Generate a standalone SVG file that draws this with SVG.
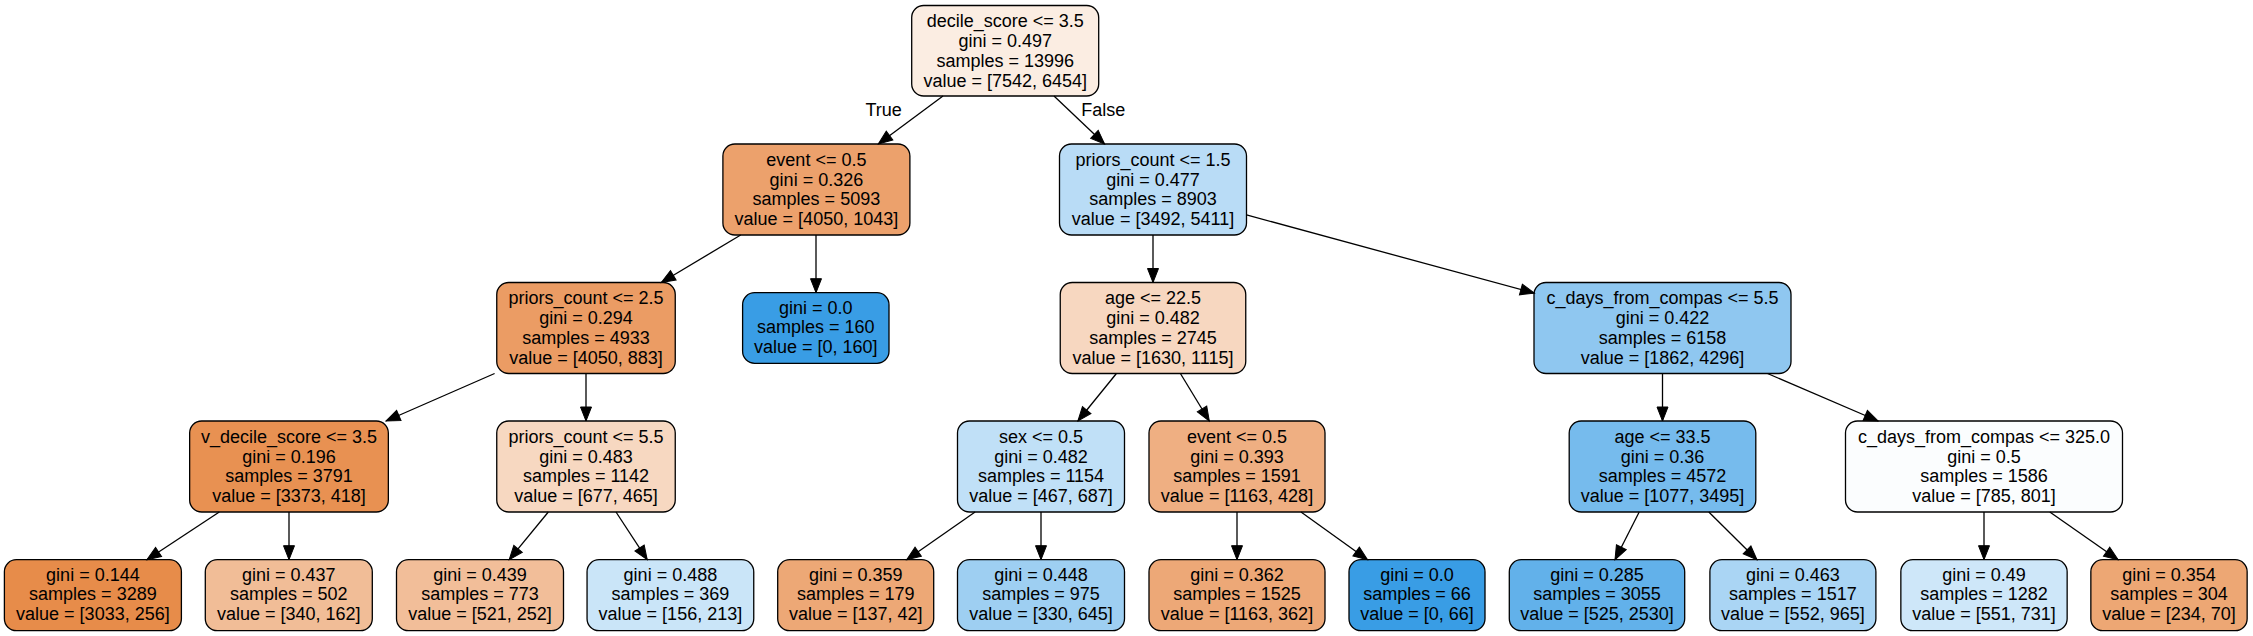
<svg xmlns="http://www.w3.org/2000/svg" width="2253" height="636" viewBox="0 0 2253 636">
<style>
  .box { stroke: #000; stroke-width: 1.3; }
  text { font-family: "Liberation Sans", Arial, Helvetica, sans-serif; font-size: 18px; fill: #000; text-anchor: middle; }
  .edge { stroke: #000; stroke-width: 1.3; fill: none; marker-end: url(#arr); }
</style>
<defs>
  <marker id="arr" markerUnits="userSpaceOnUse" markerWidth="16" markerHeight="13" refX="14" refY="5.5" orient="auto" overflow="visible">
    <path d="M0,0 L14,5.5 L0,11 z" fill="#000" stroke="#000" stroke-width="1"/>
  </marker>
</defs>
<rect width="2253" height="636" fill="#fff"/>

<g id="n0"><rect class="box" x="911.7" y="5.5" width="187" height="90.5" rx="12" fill="#fbede2"/>
<text><tspan x="1005.2" y="27.2">decile_score &lt;= 3.5</tspan><tspan x="1005.2" y="47">gini = 0.497</tspan><tspan x="1005.2" y="66.8">samples = 13996</tspan><tspan x="1005.2" y="86.6">value = [7542, 6454]</tspan></text></g>

<g id="n1"><rect class="box" x="722.9" y="144" width="187" height="91" rx="12" fill="#eca16c"/>
<text><tspan x="816.4" y="165.7">event &lt;= 0.5</tspan><tspan x="816.4" y="185.5">gini = 0.326</tspan><tspan x="816.4" y="205.3">samples = 5093</tspan><tspan x="816.4" y="225.1">value = [4050, 1043]</tspan></text></g>

<g id="n2"><rect class="box" x="1059.5" y="144" width="187" height="91" rx="12" fill="#b9dcf6"/>
<text><tspan x="1153" y="165.7">priors_count &lt;= 1.5</tspan><tspan x="1153" y="185.5">gini = 0.477</tspan><tspan x="1153" y="205.3">samples = 8903</tspan><tspan x="1153" y="225.1">value = [3492, 5411]</tspan></text></g>

<g id="n3"><rect class="box" x="496.75" y="282.5" width="178.5" height="91" rx="12" fill="#eb9c64"/>
<text><tspan x="586" y="304.2">priors_count &lt;= 2.5</tspan><tspan x="586" y="324">gini = 0.294</tspan><tspan x="586" y="343.8">samples = 4933</tspan><tspan x="586" y="363.6">value = [4050, 883]</tspan></text></g>

<g id="n4"><rect class="box" x="742.6" y="292.7" width="146.4" height="70.6" rx="12" fill="#399de5"/>
<text><tspan x="815.8" y="313.5">gini = 0.0</tspan><tspan x="815.8" y="333.3">samples = 160</tspan><tspan x="815.8" y="353.1">value = [0, 160]</tspan></text></g>

<g id="n5"><rect class="box" x="1060.25" y="282.5" width="185.5" height="91" rx="12" fill="#f7d7c0"/>
<text><tspan x="1153" y="304.2">age &lt;= 22.5</tspan><tspan x="1153" y="324">gini = 0.482</tspan><tspan x="1153" y="343.8">samples = 2745</tspan><tspan x="1153" y="363.6">value = [1630, 1115]</tspan></text></g>

<g id="n6"><rect class="box" x="1534" y="282.5" width="257" height="91" rx="12" fill="#8fc7f0"/>
<text><tspan x="1662.5" y="304.2">c_days_from_compas &lt;= 5.5</tspan><tspan x="1662.5" y="324">gini = 0.422</tspan><tspan x="1662.5" y="343.8">samples = 6158</tspan><tspan x="1662.5" y="363.6">value = [1862, 4296]</tspan></text></g>

<g id="n7"><rect class="box" x="189.65" y="421" width="198.7" height="91" rx="12" fill="#e89152"/>
<text><tspan x="289" y="442.7">v_decile_score &lt;= 3.5</tspan><tspan x="289" y="462.5">gini = 0.196</tspan><tspan x="289" y="482.3">samples = 3791</tspan><tspan x="289" y="502.1">value = [3373, 418]</tspan></text></g>

<g id="n8"><rect class="box" x="496.75" y="421" width="178.5" height="91" rx="12" fill="#f7d8c1"/>
<text><tspan x="586" y="442.7">priors_count &lt;= 5.5</tspan><tspan x="586" y="462.5">gini = 0.483</tspan><tspan x="586" y="482.3">samples = 1142</tspan><tspan x="586" y="502.1">value = [677, 465]</tspan></text></g>

<g id="n9"><rect class="box" x="957.5" y="421" width="167" height="91" rx="12" fill="#c0e0f7"/>
<text><tspan x="1041" y="442.7">sex &lt;= 0.5</tspan><tspan x="1041" y="462.5">gini = 0.482</tspan><tspan x="1041" y="482.3">samples = 1154</tspan><tspan x="1041" y="502.1">value = [467, 687]</tspan></text></g>

<g id="n10"><rect class="box" x="1149" y="421" width="176" height="91" rx="12" fill="#efaf82"/>
<text><tspan x="1237" y="442.7">event &lt;= 0.5</tspan><tspan x="1237" y="462.5">gini = 0.393</tspan><tspan x="1237" y="482.3">samples = 1591</tspan><tspan x="1237" y="502.1">value = [1163, 428]</tspan></text></g>

<g id="n11"><rect class="box" x="1569.2" y="421" width="186.6" height="91" rx="12" fill="#76bbed"/>
<text><tspan x="1662.5" y="442.7">age &lt;= 33.5</tspan><tspan x="1662.5" y="462.5">gini = 0.36</tspan><tspan x="1662.5" y="482.3">samples = 4572</tspan><tspan x="1662.5" y="502.1">value = [1077, 3495]</tspan></text></g>

<g id="n12"><rect class="box" x="1845.5" y="421" width="277" height="91" rx="12" fill="#fbfdfe"/>
<text><tspan x="1984" y="442.7">c_days_from_compas &lt;= 325.0</tspan><tspan x="1984" y="462.5">gini = 0.5</tspan><tspan x="1984" y="482.3">samples = 1586</tspan><tspan x="1984" y="502.1">value = [785, 801]</tspan></text></g>

<g id="n13"><rect class="box" x="4.4" y="559.7" width="177" height="71" rx="12" fill="#e78c4a"/>
<text><tspan x="92.9" y="580.5">gini = 0.144</tspan><tspan x="92.9" y="600.3">samples = 3289</tspan><tspan x="92.9" y="620.1">value = [3033, 256]</tspan></text></g>

<g id="n14"><rect class="box" x="205.3" y="559.7" width="167" height="71" rx="12" fill="#f1bd97"/>
<text><tspan x="288.8" y="580.5">gini = 0.437</tspan><tspan x="288.8" y="600.3">samples = 502</tspan><tspan x="288.8" y="620.1">value = [340, 162]</tspan></text></g>

<g id="n15"><rect class="box" x="396.5" y="559.7" width="167" height="71" rx="12" fill="#f2be99"/>
<text><tspan x="480" y="580.5">gini = 0.439</tspan><tspan x="480" y="600.3">samples = 773</tspan><tspan x="480" y="620.1">value = [521, 252]</tspan></text></g>

<g id="n16"><rect class="box" x="587.05" y="559.7" width="166.7" height="71" rx="12" fill="#cae5f8"/>
<text><tspan x="670.4" y="580.5">gini = 0.488</tspan><tspan x="670.4" y="600.3">samples = 369</tspan><tspan x="670.4" y="620.1">value = [156, 213]</tspan></text></g>

<g id="n17"><rect class="box" x="777.7" y="559.7" width="156" height="71" rx="12" fill="#eda876"/>
<text><tspan x="855.7" y="580.5">gini = 0.359</tspan><tspan x="855.7" y="600.3">samples = 179</tspan><tspan x="855.7" y="620.1">value = [137, 42]</tspan></text></g>

<g id="n18"><rect class="box" x="957.5" y="559.7" width="167" height="71" rx="12" fill="#9ecff2"/>
<text><tspan x="1041" y="580.5">gini = 0.448</tspan><tspan x="1041" y="600.3">samples = 975</tspan><tspan x="1041" y="620.1">value = [330, 645]</tspan></text></g>

<g id="n19"><rect class="box" x="1149" y="559.7" width="176" height="71" rx="12" fill="#eda877"/>
<text><tspan x="1237" y="580.5">gini = 0.362</tspan><tspan x="1237" y="600.3">samples = 1525</tspan><tspan x="1237" y="620.1">value = [1163, 362]</tspan></text></g>

<g id="n20"><rect class="box" x="1349" y="559.7" width="136" height="71" rx="12" fill="#399de5"/>
<text><tspan x="1417" y="580.5">gini = 0.0</tspan><tspan x="1417" y="600.3">samples = 66</tspan><tspan x="1417" y="620.1">value = [0, 66]</tspan></text></g>

<g id="n21"><rect class="box" x="1509.3" y="559.7" width="175.4" height="71" rx="12" fill="#62b1ea"/>
<text><tspan x="1597" y="580.5">gini = 0.285</tspan><tspan x="1597" y="600.3">samples = 3055</tspan><tspan x="1597" y="620.1">value = [525, 2530]</tspan></text></g>

<g id="n22"><rect class="box" x="1709.9" y="559.7" width="166" height="71" rx="12" fill="#aad5f4"/>
<text><tspan x="1792.9" y="580.5">gini = 0.463</tspan><tspan x="1792.9" y="600.3">samples = 1517</tspan><tspan x="1792.9" y="620.1">value = [552, 965]</tspan></text></g>

<g id="n23"><rect class="box" x="1900.85" y="559.7" width="166.3" height="71" rx="12" fill="#cee7f9"/>
<text><tspan x="1984" y="580.5">gini = 0.49</tspan><tspan x="1984" y="600.3">samples = 1282</tspan><tspan x="1984" y="620.1">value = [551, 731]</tspan></text></g>

<g id="n24"><rect class="box" x="2090.85" y="559.7" width="156.3" height="71" rx="12" fill="#eda774"/>
<text><tspan x="2169" y="580.5">gini = 0.354</tspan><tspan x="2169" y="600.3">samples = 304</tspan><tspan x="2169" y="620.1">value = [234, 70]</tspan></text></g>

<g id="connectors">
  <line class="edge" x1="943" y1="96" x2="878.3" y2="144"/>
  <line class="edge" x1="1054" y1="96" x2="1104.6" y2="144"/>
  <line class="edge" x1="740.7" y1="235" x2="661.3" y2="282.5"/>
  <line class="edge" x1="816" y1="235" x2="816" y2="292.7"/>
  <line class="edge" x1="1153" y1="235" x2="1153" y2="282.5"/>
  <line class="edge" x1="1246.5" y1="214.9" x2="1534.4" y2="293.2"/>
  <line class="edge" x1="494.6" y1="373.5" x2="386" y2="421"/>
  <line class="edge" x1="586" y1="373.5" x2="586" y2="421"/>
  <line class="edge" x1="1116.4" y1="373.5" x2="1077.9" y2="421"/>
  <line class="edge" x1="1180.4" y1="373.5" x2="1209.3" y2="421"/>
  <line class="edge" x1="1662.5" y1="373.5" x2="1662.5" y2="421"/>
  <line class="edge" x1="1767.5" y1="373.5" x2="1878.1" y2="421"/>
  <line class="edge" x1="219.3" y1="512" x2="146.9" y2="559.7"/>
  <line class="edge" x1="289" y1="512" x2="289" y2="559.7"/>
  <line class="edge" x1="548.3" y1="512" x2="509.2" y2="559.7"/>
  <line class="edge" x1="616" y1="512" x2="647.2" y2="559.7"/>
  <line class="edge" x1="975.1" y1="512" x2="906.7" y2="559.7"/>
  <line class="edge" x1="1041" y1="512" x2="1041" y2="559.7"/>
  <line class="edge" x1="1237" y1="512" x2="1237" y2="559.7"/>
  <line class="edge" x1="1301" y1="512" x2="1367.5" y2="559.7"/>
  <line class="edge" x1="1639.2" y1="512" x2="1615" y2="559.7"/>
  <line class="edge" x1="1708.8" y1="512" x2="1757" y2="559.7"/>
  <line class="edge" x1="1984" y1="512" x2="1984" y2="559.7"/>
  <line class="edge" x1="2049.8" y1="512" x2="2118.1" y2="559.7"/>
  <text x="883.6" y="115.6">True</text>
  <text x="1103.2" y="115.6">False</text>
</g>
</svg>
